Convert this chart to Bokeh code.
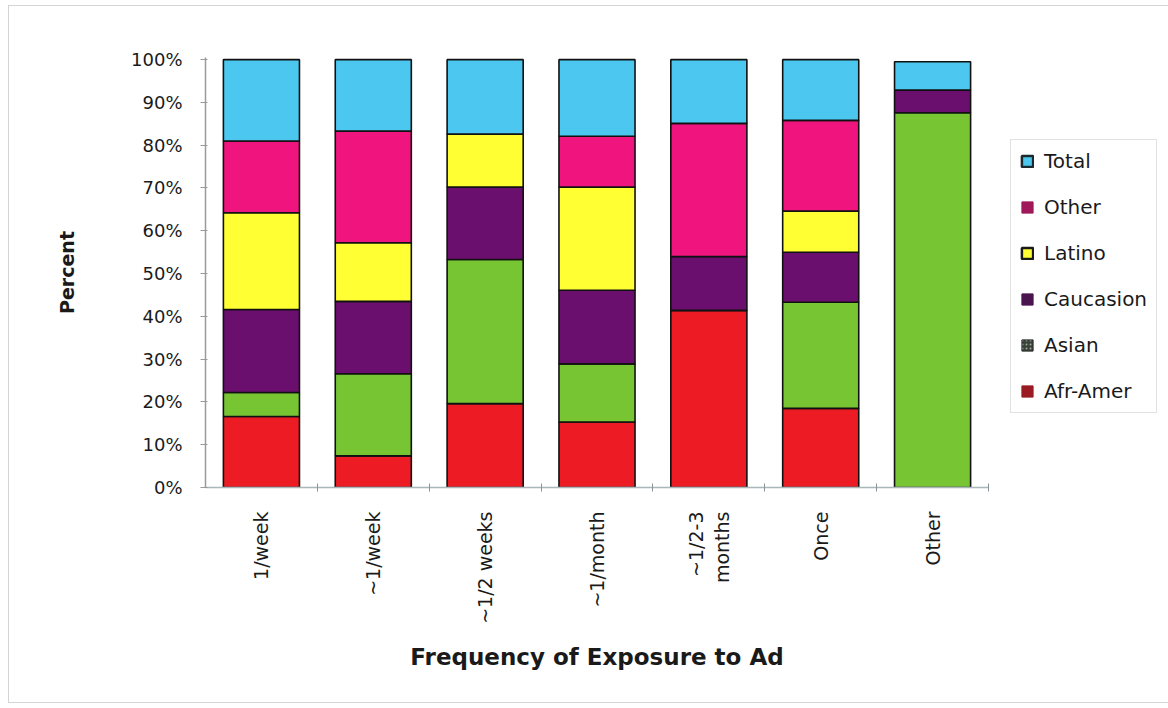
from math import pi

import numpy as np
from bokeh.embed import file_html
from bokeh.models import (ColumnDataSource, Range1d, LinearAxis, FixedTicker,
                          PrintfTickFormatter, Legend, LegendItem)
from bokeh.plotting import figure
from bokeh.resources import INLINE

# Frequency of exposure categories
categories = ["1/week", "~1/week", "~1/2 weeks", "~1/month", "~1/2-3\nmonths", "Once", "Other"]

# Share of each group within a category (percent), stacked bottom to top
afr_amer = [16.6, 7.4, 19.6, 15.3, 41.4, 18.5, 0.0]
asian = [5.6, 19.2, 33.7, 13.6, 0.0, 24.8, 87.6]
caucasion = [19.4, 16.9, 16.9, 17.2, 12.6, 11.7, 5.3]
latino = [22.6, 13.7, 12.4, 24.1, 0.0, 9.6, 0.0]
other = [16.8, 26.1, 0.0, 11.9, 31.1, 21.2, 0.0]
total = [19.0, 16.7, 17.4, 17.9, 14.9, 14.2, 6.6]

series = ["Afr-Amer", "Asian", "Caucasion", "Latino", "Other", "Total"]
bar_colors = ["#ED1C24", "#78C534", "#6A0F6E", "#FFFF33", "#F0147E", "#4CC8F0"]

y_ticks = list(range(0, 101, 10))

n = len(categories)
centers = [float(c) for c in np.arange(n) + 0.5]   # one unit slot per category
bounds = list(range(1, n + 1))                      # slot edges to the right of each bar

source = ColumnDataSource(dict(
    x=centers,
    **{"Afr-Amer": afr_amer, "Asian": asian, "Caucasion": caucasion,
       "Latino": latino, "Other": other, "Total": total},
))

FONT = "DejaVu Sans"
TEXT = "#1a1a1a"

p = figure(
    x_range=Range1d(0, n),
    y_range=Range1d(0, 100.5),
    frame_width=783, frame_height=430,
    min_border_left=196, min_border_right=10,
    min_border_top=51, min_border_bottom=215,
    x_axis_location=None, y_axis_location="left",
    output_backend="svg", toolbar_location=None,
    background_fill_color="white", border_fill_color="white",
)
p.outline_line_color = None
p.grid.grid_line_color = None
p.styles = {"border": "1px solid #d4d4d4", "margin": "5px 0 0 8px"}

# Stacked bars
p.vbar_stack(series, x="x", width=0.68, color=bar_colors, source=source,
             line_color="#111111", line_width=1.6)

# Y axis
yax = p.yaxis[0]
yax.ticker = FixedTicker(ticks=y_ticks)
yax.formatter = PrintfTickFormatter(format="%d%%")
yax.minor_tick_line_color = None
yax.axis_line_color = "#9a9a9a"
yax.axis_line_width = 1.5
yax.major_tick_line_color = "#9a9a9a"
yax.major_tick_in = 2
yax.major_tick_out = 5
yax.major_label_standoff = 18
yax.major_label_text_font = FONT
yax.major_label_text_font_size = "18px"
yax.major_label_text_color = TEXT
yax.axis_label = "Percent"
yax.axis_label_text_font = FONT
yax.axis_label_text_font_style = "bold"
yax.axis_label_text_font_size = "19px"
yax.axis_label_text_color = TEXT
yax.axis_label_standoff = 50

# Axis line with tick marks at the slot edges
bax = LinearAxis(ticker=FixedTicker(ticks=bounds))
bax.major_label_overrides = {b: "" for b in bounds}
bax.axis_line_color = "#a9b6ba"
bax.axis_line_width = 1.5
bax.major_tick_line_color = "#8a9498"
bax.major_tick_in = 4
bax.major_tick_out = 4
bax.minor_tick_line_color = None
bax.major_label_standoff = 0
p.add_layout(bax, "below")

# Category labels under the bar centres
cax = LinearAxis(ticker=FixedTicker(ticks=centers))
cax.major_label_overrides = {c: lab for c, lab in zip(centers, categories)}
cax.axis_line_color = None
cax.major_tick_line_color = None
cax.minor_tick_line_color = None
cax.major_label_orientation = pi / 2
cax.major_label_standoff = 14
cax.major_label_text_font = FONT
cax.major_label_text_font_size = "19px"
cax.major_label_text_color = TEXT
cax.axis_label = "Frequency of Exposure to Ad"
cax.axis_label_text_font = FONT
cax.axis_label_text_font_style = "bold"
cax.axis_label_text_font_size = "23px"
cax.axis_label_text_color = TEXT
cax.axis_label_standoff = 17
p.add_layout(cax, "below")

# Legend swatches (renderers hold a single undrawn point so only the key shows)
legend_styles = [
    ("Total", dict(fill_color="#4CC8F0", line_color="#1c2a30", line_width=2.5)),
    ("Other", dict(fill_color="#A0185A", line_color="#A0185A", line_width=1)),
    ("Latino", dict(fill_color="#FFFF33", line_color="#1a1a1a", line_width=2.5)),
    ("Caucasion", dict(fill_color="#4A154F", line_color="#4A154F", line_width=1)),
    ("Asian", dict(fill_color="#3a423a", line_color="#2a2a2a", line_width=1,
                   hatch_pattern="dot", hatch_color="#9aa89a", hatch_scale=4)),
    ("Afr-Amer", dict(fill_color="#9A1C22", line_color="#9A1C22", line_width=1)),
]
items = []
for label, style in legend_styles:
    r = p.vbar(x=[np.nan], top=[np.nan], width=0.5, **style)
    items.append(LegendItem(label=label, renderers=[r]))

legend = Legend(items=items, location=(22, 74))
legend.label_text_font = FONT
legend.label_text_font_size = "20px"
legend.label_text_color = TEXT
legend.glyph_width = 14
legend.glyph_height = 14
legend.label_height = 22
legend.label_standoff = 10
legend.spacing = 22
legend.padding = 9
legend.margin = 0
legend.border_line_color = "#c4c4c4"
legend.border_line_width = 1
legend.background_fill_color = "white"
p.add_layout(legend, "right")

with open("out.html", "w") as f:
    f.write(file_html(p, INLINE))
